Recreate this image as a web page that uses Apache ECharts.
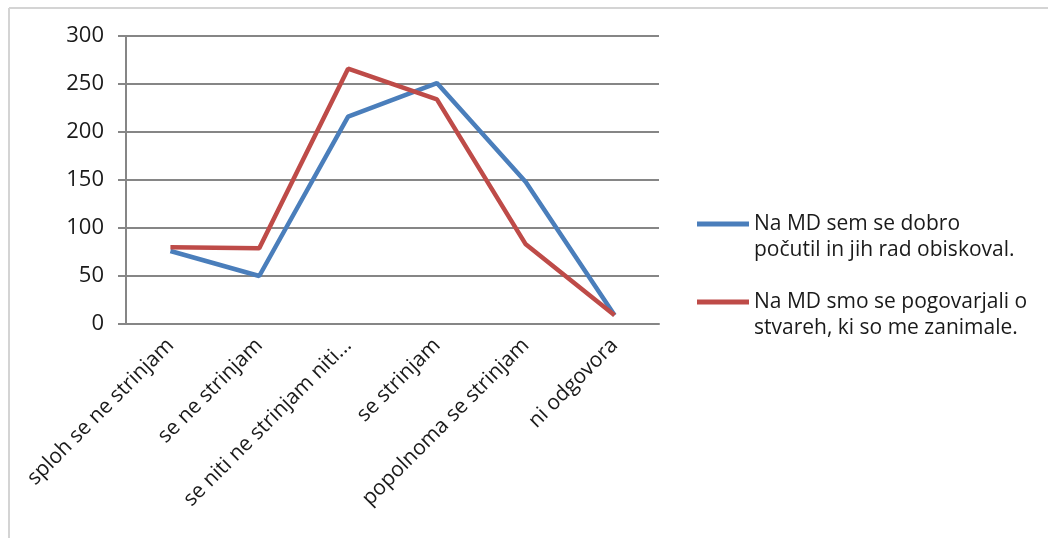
<!DOCTYPE html>
<html>
	<head>
		<meta charset="utf-8">
		<title></title>
	</head>
	<body style="margin:0;background:#fff;">
		<div id="container" style="width: 1048px;height:538px;"></div>
	</body>
	<script src="https://cdn.jsdelivr.net/npm/echarts@6/dist/echarts.min.js"></script>
	<script type="text/javascript">
		'use strict'

		// kategorije odgovorov
		var categories = ['sploh se ne strinjam', 'se ne strinjam', 'se niti ne strinjam niti...', 'se strinjam', 'popolnoma se strinjam', 'ni odgovora'];
		var seriesNames = ['Na MD sem se dobro počutil in jih rad obiskoval.', 'Na MD smo se pogovarjali o stvareh, ki so me zanimale.'];
		var dobroPocutil = [76, 50, 216, 251, 148, 9];
		var pogovarjali = [80, 79, 266, 234, 83, 9];
		var yTicks = [0, 50, 100, 150, 200, 250, 300];

		// prelom legende v dve vrstici
		var legendText = {};
		legendText[seriesNames[0]] = 'Na MD sem se dobro\npočutil in jih rad obiskoval.';
		legendText[seriesNames[1]] = 'Na MD smo se pogovarjali o\nstvareh, ki so me zanimale.';

		// ikona: crta zgoraj, prazen del spodaj (da je crta ob prvi vrstici)
		var legendIcon = 'path://M0,0L52,0L52,5L0,5Z M0,31L52,31Z';

		var font = '"Open Sans", "Liberation Sans", sans-serif';
		var myCharts = echarts.init(document.getElementById('container'));
		var option = {
			animation: false,
			backgroundColor: '#fff',
			grid: {
				left: 126,
				right: 389,
				top: 36,
				bottom: 214
			},
			graphic: [{
					type: 'line',
					shape: { x1: 9, y1: 8, x2: 1048, y2: 8 },
					style: { stroke: '#d4d4d4', lineWidth: 2 }
				},
				{
					type: 'line',
					shape: { x1: 9, y1: 8, x2: 9, y2: 538 },
					style: { stroke: '#d4d4d4', lineWidth: 2 }
				}
			],
			legend: {
				orient: 'vertical',
				left: 697,
				top: 211,
				padding: 0,
				itemGap: 26,
				itemWidth: 52,
				itemHeight: 31,
				icon: legendIcon,
				itemStyle: { borderWidth: 0 },
				data: seriesNames,
				formatter: function(name) {
					return legendText[name];
				},
				textStyle: {
					fontFamily: font,
					fontSize: 21,
					color: '#1a1a1a',
					lineHeight: 26
				}
			},
			xAxis: [{
				type: 'category',
				boundaryGap: true,
				data: categories,
				axisLine: {
					lineStyle: { color: '#868686', width: 2 }
				},
				axisTick: {
					length: 6,
					lineStyle: { color: '#868686', width: 2 }
				},
				axisLabel: {
					rotate: 45,
					interval: 0,
					margin: 18,
					fontFamily: font,
					fontSize: 21,
					color: '#1a1a1a'
				}
			}],
			yAxis: [{
				type: 'value',
				min: 0,
				max: 300,
				interval: 50,
				axisLine: {
					show: true,
					lineStyle: { color: '#868686', width: 2 }
				},
				axisTick: {
					show: true,
					length: 8,
					lineStyle: { color: '#868686', width: 2 }
				},
				splitLine: {
					lineStyle: { color: '#868686', width: 2 }
				},
				axisLabel: {
					margin: 22,
					fontFamily: font,
					fontSize: 22,
					color: '#1a1a1a',
					formatter: function(v) {
						return yTicks.indexOf(v) >= 0 ? String(v) : '';
					}
				}
			}],
			series: [{
					name: seriesNames[0],
					type: 'line',
					data: dobroPocutil,
					symbol: 'none',
					color: '#4a7ebb',
					lineStyle: { width: 4.5, color: '#4a7ebb' }
				},
				{
					name: seriesNames[1],
					type: 'line',
					data: pogovarjali,
					symbol: 'none',
					color: '#be4b48',
					lineStyle: { width: 4.5, color: '#be4b48' }
				}
			]
		};
		myCharts.setOption(option);
	</script>
</html>
